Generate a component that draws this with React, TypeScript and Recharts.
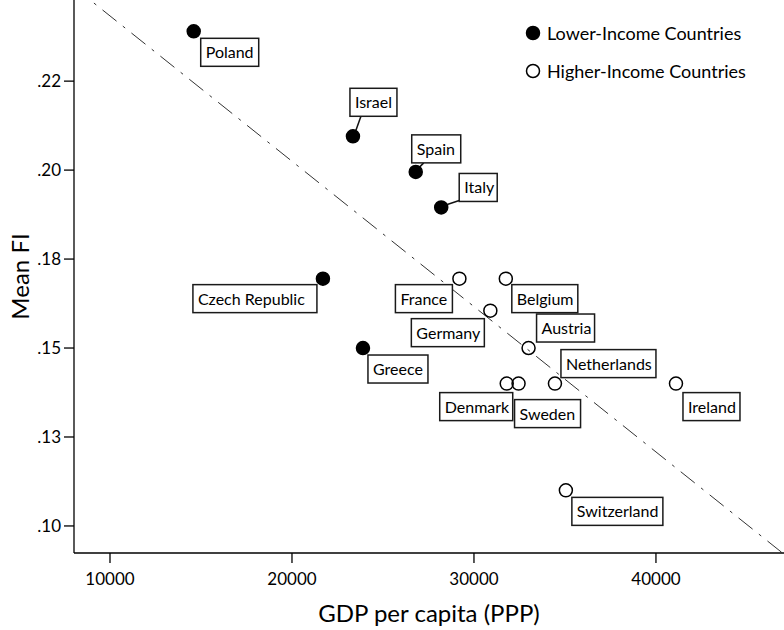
import React from 'react';
import { ScatterChart, Scatter, XAxis, YAxis, ReferenceLine, Legend } from 'recharts';

// lower-income countries (filled markers)
const lowerCountries = ['Poland', 'Israel', 'Spain', 'Italy', 'Czech Republic', 'Greece'];
const lowerGdp = [14600, 23350, 26800, 28200, 21700, 23900];
const lowerFi = [0.239, 0.2095, 0.1995, 0.1895, 0.1695, 0.15];

// higher-income countries (open markers)
const higherCountries = ['France', 'Belgium', 'Germany', 'Austria', 'Denmark', 'Sweden', 'Netherlands', 'Ireland', 'Switzerland'];
const higherGdp = [29200, 31750, 30900, 33000, 31800, 32450, 34450, 41100, 35050];
const higherFi = [0.1695, 0.1695, 0.1605, 0.15, 0.14, 0.14, 0.14, 0.14, 0.11];

const seriesNames = ['Lower-Income Countries', 'Higher-Income Countries'];

const xTicks = [10000, 20000, 30000, 40000];
const yTicks = [0.1, 0.125, 0.15, 0.175, 0.2, 0.225];
const yTickLabels = ['.10', '.13', '.15', '.18', '.20', '.22'];

// fit line end points (gdp, mean FI)
const fitGdp = [8000, 47100];
const fitFi = [0.2515, 0.0918];

const lowerData = lowerCountries.map((name, i) => ({ name, gdp: lowerGdp[i], fi: lowerFi[i] }));
const higherData = higherCountries.map((name, i) => ({ name, gdp: higherGdp[i], fi: higherFi[i] }));

// where each name box sits relative to its marker
const labelLayout: Record<string, { dx: number; dy: number; w: number; leader?: number[] }> = {
  Poland: { dx: 7, dy: 7, w: 58 },
  Israel: { dx: -3, dy: -48, w: 47, leader: [3, -6, 8, -20] },
  Spain: { dx: -4, dy: -37, w: 49, leader: [4, -5, 8, -9] },
  Italy: { dx: 18, dy: -34, w: 38, leader: [6, -3, 18, -7] },
  'Czech Republic': { dx: -130, dy: 6, w: 124 },
  Greece: { dx: 5, dy: 7, w: 60 },
  France: { dx: -64, dy: 6, w: 57 },
  Belgium: { dx: 6, dy: 6, w: 66 },
  Germany: { dx: -79, dy: 8, w: 73 },
  Austria: { dx: 8, dy: -34, w: 58 },
  Denmark: { dx: -67, dy: 9, w: 73 },
  Sweden: { dx: -4, dy: 16, w: 66 },
  Netherlands: { dx: 6, dy: -34, w: 95 },
  Ireland: { dx: 7, dy: 9, w: 57 },
  Switzerland: { dx: 6, dy: 7, w: 91 },
};

const makeShape = (filled: boolean) => (props: any) => {
  const { cx, cy, payload } = props;
  const l = labelLayout[payload.name];
  return (
    <g>
      {l.leader && (
        <line x1={cx + l.leader[0]} y1={cy + l.leader[1]} x2={cx + l.leader[2]} y2={cy + l.leader[3]} stroke="#111" strokeWidth={1.5} />
      )}
      <circle cx={cx} cy={cy} r={6.5} fill={filled ? '#000' : 'none'} stroke="#000" strokeWidth={1.5} />
      <rect x={cx + l.dx} y={cy + l.dy} width={l.w} height={28} fill="#fff" stroke="#1a1a1a" strokeWidth={1.5} />
      <text x={cx + l.dx + 5} y={cy + l.dy + 20} fontSize={16} fill="#000">
        {payload.name}
      </text>
    </g>
  );
};

// legend keeps the series order (filled first)
const renderLegend = () => (
  <svg width={260} height={90}>
    {seriesNames.map((name, i) => (
      <g key={name}>
        <circle cx={9} cy={13 + i * 38} r={6.5} fill={i === 0 ? '#000' : 'none'} stroke="#000" strokeWidth={1.5} />
        <text x={23} y={19.5 + i * 38} fontSize={18} fill="#000">
          {name}
        </text>
      </g>
    ))}
  </svg>
);

const App: React.FC = () => {
  return (
    <div style={{ position: 'absolute', left: 0, top: 0, width: 784, height: 630, background: '#fff', fontFamily: 'Lato, sans-serif' }}>
      <ScatterChart width={784} height={630} margin={{ top: 0, right: 0, bottom: 0, left: 0 }}>
        <XAxis
          type="number"
          dataKey="gdp"
          domain={[8022, 47036]}
          ticks={xTicks}
          allowDataOverflow
          height={77}
          tickSize={10}
          tickMargin={10}
          axisLine={{ stroke: '#000', strokeWidth: 1.3 }}
          tickLine={{ stroke: '#000', strokeWidth: 1.3 }}
          tick={{ fill: '#000', fontSize: 17 }}
          label={{ value: 'GDP per capita (PPP)', position: 'insideBottom', offset: 8, fontSize: 24, fill: '#000' }}
        />
        <YAxis
          type="number"
          dataKey="fi"
          domain={[0.0924, 0.2478]}
          ticks={yTicks}
          allowDataOverflow
          tickFormatter={(v: number) => yTickLabels[yTicks.indexOf(v)]}
          width={74}
          tickSize={10}
          tickMargin={3}
          axisLine={{ stroke: '#000', strokeWidth: 1.3 }}
          tickLine={{ stroke: '#000', strokeWidth: 1.3 }}
          tick={{ fill: '#000', fontSize: 17 }}
          label={{ value: 'Mean FI', angle: -90, position: 'center', dx: -17, fontSize: 24, fill: '#000' }}
        />
        <ReferenceLine
          segment={[
            { x: fitGdp[0], y: fitFi[0] },
            { x: fitGdp[1], y: fitFi[1] },
          ]}
          ifOverflow="hidden"
          stroke="#333"
          strokeWidth={1}
          strokeDasharray="18 8 3 8"
        />
        <Scatter name={seriesNames[0]} data={lowerData} shape={makeShape(true)} isAnimationActive={false} />
        <Scatter name={seriesNames[1]} data={higherData} shape={makeShape(false)} isAnimationActive={false} />
        <Legend
          layout="vertical"
          align="center"
          verticalAlign="middle"
          wrapperStyle={{ left: 524, top: 20, width: 260 }}
          content={renderLegend}
        />
      </ScatterChart>
    </div>
  );
};

export default App;
